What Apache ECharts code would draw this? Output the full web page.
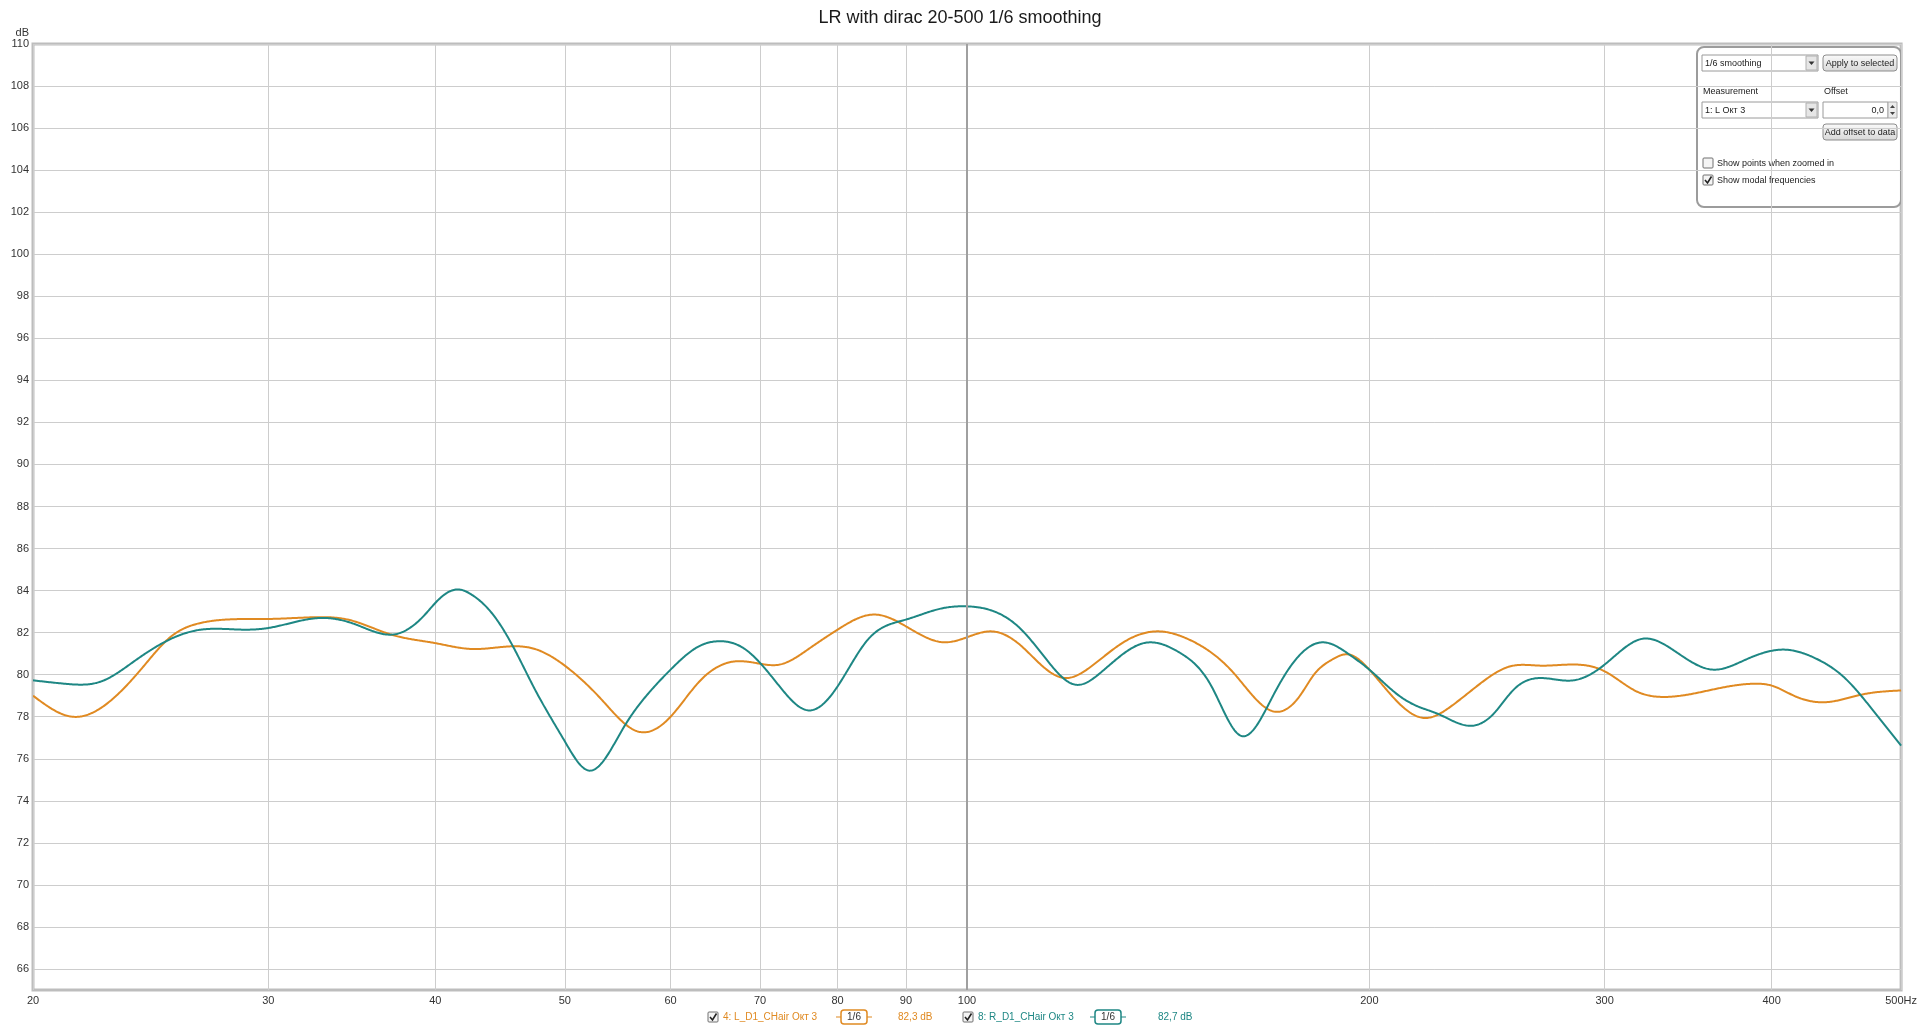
<!DOCTYPE html>
<html>
<head>
<meta charset="utf-8">
<script src="https://cdn.jsdelivr.net/npm/echarts@6/dist/echarts.min.js"></script>
<style>
html,body{margin:0;padding:0;background:#fff;}
#chart{width:1920px;height:1029px;}
</style>
</head>
<body>
<div id="chart"></div>
<script>
// ---- data ----
const titleText = 'LR with dirac 20-500 1/6 smoothing';
const xTicks = [20, 30, 40, 50, 60, 70, 80, 90, 100, 200, 300, 400, 500];
const yTicks = [66,68,70,72,74,76,78,80,82,84,86,88,90,92,94,96,98,100,102,104,106,108,110];

const freqL = [20, 21.4, 22.9, 24.2, 25.3, 26.7, 30, 32.4, 34.4, 37.1, 40, 42.6, 45.7, 47.5, 50, 53.3, 56.7, 60, 63, 67, 70, 72.4, 76.3, 80, 85.3, 90, 96.1, 100, 104.2, 109.5, 114.7, 118.7, 123.9, 130.7, 138.9, 146.6, 158.3, 169.6, 177.7, 181.8, 187.5, 192.6, 200, 210, 219.9, 230.2, 242.4, 255.1, 268.5, 285.9, 300, 316.8, 331.6, 361.3, 389, 400, 416.6, 441, 467, 500];
const dbL = [79.0, 78.0, 78.8, 80.4, 81.75, 82.46, 82.65, 82.73, 82.62, 81.9, 81.5, 81.22, 81.35, 81.22, 80.43, 78.8, 77.3, 78.0, 79.65, 80.63, 80.52, 80.48, 81.27, 82.14, 82.86, 82.3, 81.54, 81.78, 82.06, 81.43, 80.24, 79.84, 80.4, 81.51, 82.06, 81.67, 80.08, 78.25, 79.05, 80.0, 80.71, 80.97, 80.24, 78.7, 77.94, 78.49, 79.6, 80.4, 80.43, 80.48, 80.16, 79.21, 78.94, 79.29, 79.57, 79.48, 78.97, 78.7, 79.05, 79.25];

const freqR = [20, 21.2, 22.5, 23.8, 25.3, 26.7, 28.8, 30, 32.9, 34.9, 37.3, 39.3, 40, 40.7, 41.7, 42.6, 44, 45.7, 47.5, 50, 52.1, 55.4, 57.5, 60, 63, 65.2, 68, 70, 72.4, 76.1, 80, 84.3, 90, 95.4, 100, 105.4, 109.5, 114.7, 120.6, 125.8, 135.8, 144.4, 152.4, 160.2, 169.6, 173.6, 184.6, 193.3, 200, 210, 217.4, 225, 238.8, 248, 256.5, 268.5, 284.3, 300, 320.4, 337.3, 361.3, 382.4, 409.4, 431, 453.8, 474.9, 500];
const dbR = [79.73, 79.56, 79.68, 80.63, 81.67, 82.14, 82.14, 82.22, 82.7, 82.38, 81.92, 82.86, 83.41, 83.84, 84.05, 83.8, 83.0, 81.38, 79.29, 76.83, 75.44, 77.54, 78.97, 80.24, 81.35, 81.59, 81.27, 80.56, 79.44, 78.3, 79.44, 81.67, 82.62, 83.13, 83.25, 82.94, 82.22, 80.71, 79.52, 80.08, 81.51, 81.03, 79.44, 77.1, 79.05, 80.16, 81.54, 80.95, 80.24, 79.05, 78.49, 78.14, 77.57, 78.17, 79.29, 79.84, 79.73, 80.48, 81.71, 81.19, 80.24, 80.71, 81.19, 80.79, 79.84, 78.41, 76.62];

const nameL = '4: L_D1_CHair Окт 3';
const nameR = '8: R_D1_CHair Окт 3';
const levelL = '82,3 dB';
const levelR = '82,7 dB';
const smoothLabel = '1/6';

const colorL = '#E08A22';
const colorR = '#1E8784';

// ---- build ----
const FONT = '"Liberation Sans", Arial, sans-serif';
const pairs = (xs, ys) => xs.map((x, i) => [x, ys[i]]);

// natural cubic spline through pixel points (x strictly increasing); returns dense polyline
function splinePixels(pts) {
  const n = pts.length;
  const xs = pts.map(p => p[0]), ys = pts.map(p => p[1]);
  const h = [];
  for (let i = 0; i < n - 1; i++) h.push(xs[i + 1] - xs[i]);
  const M = new Array(n).fill(0);
  if (n > 2) {
    const a = [], b = [], c = [], d = [];
    for (let i = 1; i < n - 1; i++) {
      a.push(h[i - 1]); b.push(2 * (h[i - 1] + h[i])); c.push(h[i]);
      d.push(6 * ((ys[i + 1] - ys[i]) / h[i] - (ys[i] - ys[i - 1]) / h[i - 1]));
    }
    const m = b.length;
    for (let i = 1; i < m; i++) {
      const w = a[i] / b[i - 1];
      b[i] -= w * c[i - 1];
      d[i] -= w * d[i - 1];
    }
    const sol = new Array(m);
    sol[m - 1] = d[m - 1] / b[m - 1];
    for (let i = m - 2; i >= 0; i--) sol[i] = (d[i] - c[i] * sol[i + 1]) / b[i];
    for (let i = 0; i < m; i++) M[i + 1] = sol[i];
  }
  const out = [];
  for (let i = 0; i < n - 1; i++) {
    const hi = h[i];
    const bb = (ys[i + 1] - ys[i]) / hi - hi * (2 * M[i] + M[i + 1]) / 6;
    const steps = Math.max(2, Math.ceil(hi));
    for (let s = 0; s < steps; s++) {
      const t = hi * s / steps;
      out.push([xs[i] + t, ys[i] + bb * t + M[i] / 2 * t * t + (M[i + 1] - M[i]) / (6 * hi) * t * t * t]);
    }
  }
  out.push([xs[n - 1], ys[n - 1]]);
  return out;
}

function curveSeries(name, xs, ys, color, z) {
  return {
    name: name, type: 'custom', z: z, clip: true,
    data: pairs(xs, ys),
    encode: {x: 0, y: 1},
    renderItem: function (params, api) {
      if (params.dataIndex !== 0) return null;
      const px = xs.map((x, i) => api.coord([x, ys[i]]));
      return {
        type: 'polyline', silent: true,
        shape: {points: splinePixels(px), smooth: 0},
        style: {stroke: color, lineWidth: 2, fill: null, lineJoin: 'round'}
      };
    }
  };
}

function checkbox(x, y, checked) {
  const els = [{
    type: 'rect', silent: true,
    shape: {x: x, y: y, width: 10, height: 10, r: 1},
    style: {fill: '#f4f4f4', stroke: '#707070', lineWidth: 1}
  }];
  if (checked) {
    els.push({
      type: 'polyline', silent: true,
      shape: {points: [[x + 2, y + 5], [x + 4.5, y + 8], [x + 8.5, y + 1.5]]},
      style: {stroke: '#222', lineWidth: 1.6, fill: null}
    });
  }
  return els;
}
function txt(x, y, s, opts) {
  opts = opts || {};
  return {
    type: 'text', silent: true, x: x, y: y,
    style: {
      text: s, font: (opts.size || 9) + 'px ' + FONT,
      fill: opts.color || '#222',
      textAlign: opts.align || 'left', textVerticalAlign: 'middle'
    }
  };
}
function button(x, y, w, h, s) {
  return [{
    type: 'rect', silent: true,
    shape: {x: x, y: y, width: w, height: h, r: 3},
    style: {
      fill: {type: 'linear', x: 0, y: 0, x2: 0, y2: 1,
        colorStops: [{offset: 0, color: '#fbfbfb'}, {offset: 1, color: '#d8d8d8'}]},
      stroke: '#8c8c8c', lineWidth: 1
    }
  }, txt(x + w / 2, y + h / 2 + 0.5, s, {align: 'center'})];
}
function dropdown(x, y, w, h, s) {
  return [{
    type: 'rect', silent: true,
    shape: {x: x, y: y, width: w, height: h},
    style: {fill: '#fff', stroke: '#9a9a9a', lineWidth: 1}
  }, {
    type: 'rect', silent: true,
    shape: {x: x + w - 12, y: y + 1, width: 11, height: h - 2},
    style: {fill: '#e6e6e6', stroke: '#b0b0b0', lineWidth: 1}
  }, {
    type: 'polygon', silent: true,
    shape: {points: [[x + w - 9.5, y + h / 2 - 1.5], [x + w - 3.5, y + h / 2 - 1.5], [x + w - 6.5, y + h / 2 + 2]]},
    style: {fill: '#333'}
  }, txt(x + 3, y + h / 2 + 0.5, s)];
}
function smoothBox(cx, y, color) {
  return [{
    type: 'line', silent: true,
    shape: {x1: cx - 18, y1: y, x2: cx + 18, y2: y},
    style: {stroke: color, lineWidth: 1.2}
  }, {
    type: 'rect', silent: true,
    shape: {x: cx - 13, y: y - 7, width: 26, height: 14, r: 3},
    style: {fill: '#fff', stroke: color, lineWidth: 1.5}
  }, txt(cx, y + 0.5, smoothLabel, {size: 10, color: '#333', align: 'center'})];
}

const legendY = 1017;
const graphics = [].concat(
  // control panel
  [{
    type: 'rect', silent: true,
    shape: {x: 1697, y: 47, width: 204, height: 160, r: 7},
    style: {fill: 'rgba(255,255,255,0.88)', stroke: '#9c9c9c', lineWidth: 2}
  }],
  dropdown(1702, 55, 116, 16, '1/6 smoothing'),
  button(1823, 55, 74, 16, 'Apply to selected'),
  [txt(1703, 92, 'Measurement'), txt(1824, 92, 'Offset')],
  dropdown(1702, 102, 116, 16, '1: L Окт 3'),
  [{
    type: 'rect', silent: true,
    shape: {x: 1823, y: 102, width: 65, height: 16},
    style: {fill: '#fff', stroke: '#9a9a9a', lineWidth: 1}
  }, {
    type: 'rect', silent: true,
    shape: {x: 1888, y: 102, width: 9, height: 16},
    style: {fill: '#ececec', stroke: '#a8a8a8', lineWidth: 1}
  }, {
    type: 'polygon', silent: true,
    shape: {points: [[1890, 108], [1895, 108], [1892.5, 105]]}, style: {fill: '#444'}
  }, {
    type: 'polygon', silent: true,
    shape: {points: [[1890, 112], [1895, 112], [1892.5, 115]]}, style: {fill: '#444'}
  }, txt(1884, 110.5, '0,0', {align: 'right'})],
  button(1823, 124, 74, 16, 'Add offset to data'),
  checkbox(1703, 158, false),
  [txt(1717, 163.5, 'Show points when zoomed in')],
  checkbox(1703, 175, true),
  [txt(1717, 180.5, 'Show modal frequencies')],
  // bottom legend
  checkbox(708, legendY - 5, true),
  [txt(723, legendY, nameL, {size: 10, color: colorL})],
  smoothBox(854, legendY, colorL),
  [txt(898, legendY, levelL, {size: 10, color: colorL})],
  checkbox(963, legendY - 5, true),
  [txt(978, legendY, nameR, {size: 10, color: colorR})],
  smoothBox(1108, legendY, colorR),
  [txt(1158, legendY, levelR, {size: 10, color: colorR})]
);

const chart = echarts.init(document.getElementById('chart'), null, {renderer: 'canvas'});
chart.setOption({
  animation: false,
  backgroundColor: '#ffffff',
  title: {
    text: titleText, left: 'center', top: 9, padding: 0,
    textStyle: {fontFamily: FONT, fontSize: 18, fontWeight: 'normal', color: '#1a1a1a'}
  },
  grid: {
    left: 33, right: 18, top: 44, bottom: 39,
    show: true, borderColor: '#bdbdbd', borderWidth: 3, backgroundColor: 'transparent',
    containLabel: false
  },
  xAxis: {
    type: 'log', logBase: 10, min: 20, max: 500,
    axisLine: {show: false},
    axisTick: {show: false, customValues: xTicks},
    axisLabel: {
      customValues: xTicks, margin: 5, fontSize: 11, color: '#333', fontFamily: FONT,
      formatter: v => (Math.round(v) === 500 ? '500Hz' : String(Math.round(v)))
    },
    splitLine: {show: true, lineStyle: {color: '#cdcdcd', width: 1}}
  },
  yAxis: {
    type: 'value', min: 65, max: 110,
    name: 'dB', nameLocation: 'end', nameGap: 4,
    nameTextStyle: {fontSize: 11, color: '#333', fontFamily: FONT, align: 'right', padding: [0, 4, 0, 0]},
    axisLine: {show: false},
    axisTick: {show: false, customValues: yTicks},
    axisLabel: {customValues: yTicks, margin: 4, fontSize: 11, color: '#333', fontFamily: FONT},
    splitLine: {show: true, lineStyle: {color: '#cdcdcd', width: 1}}
  },
  series: [
    {
      name: '100 Hz', type: 'line', data: [], z: 2, silent: true,
      markLine: {
        silent: true, symbol: 'none', label: {show: false}, animation: false,
        lineStyle: {color: '#a0a0a0', width: 2, type: 'solid'},
        data: [{xAxis: 100}]
      }
    },
    curveSeries(nameL, freqL, dbL, colorL, 3),
    curveSeries(nameR, freqR, dbR, colorR, 4)
  ],
  graphic: {elements: graphics}
});
</script>
</body>
</html>
